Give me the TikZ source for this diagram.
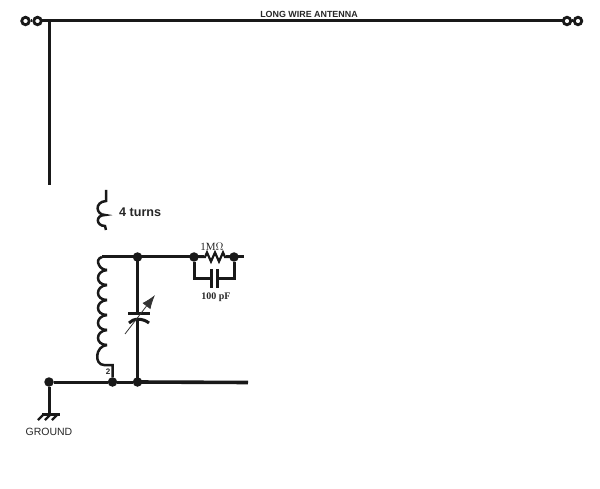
\documentclass[tikz,border=0pt]{standalone}
\usepackage{fontspec}
\setmainfont{Liberation Sans}
\newfontfamily\serifface{Liberation Serif}
\usetikzlibrary{arrows.meta}
\tikzset{
  wire/.style={line width=3pt,black!90},
  jdot/.style={circle,fill=black!90,inner sep=0pt,outer sep=0pt,minimum size=9.5pt},
  insul/.style={circle,draw=black!90,fill=white,line width=2.8pt,inner sep=0pt,minimum size=7.5pt},
  lbl/.style={inner sep=0pt,text=black!85}
}
\begin{document}
\begin{tikzpicture}[x=1pt,y=-1pt]
    \useasboundingbox (0,0) rectangle (600,489);

    % antenna
    \coordinate (top) at (49,21);
    \coordinate (wireend) at (49,185);
    \coordinate (insL) at (37.5,21);
    \coordinate (insR) at (567,21);
    \draw[wire] (insL) -- (insR);
    \draw[wire] (top) -- (wireend);
    \node[insul] (insA) at (25.5,21) {};
    \node[insul] (insB) at (37.5,21) {};
    \node[insul] (insC) at (567,21) {};
    \node[insul] (insD) at (578,21) {};
    \draw[wire] (insA) -- (insB);
    \draw[wire] (insC) -- (insD);
    \node[lbl,font=\bfseries\fontsize{8.9}{10}\selectfont] (antlabel) at (309,14.5) {LONG WIRE ANTENNA};

    % small coil
    \coordinate (sa) at (106,190);
    \coordinate (sb) at (106,230);
    \draw[wire,line width=2.5pt] (sa) -- (106,201)
      .. controls (94,202) and (96,215) .. (105,215)
      .. controls (95,215) and (96,226) .. (105,226)
      -- (sb) ;
    \node[lbl,font=\bfseries\fontsize{12.6}{14}\selectfont,anchor=west] (turns) at (119,212) {4 turns};

    % tuned circuit
    \coordinate (l1) at (102,257);
    \coordinate (r1) at (244,257);
    \draw[wire] (l1) -- (r1);
    \node[jdot] (n1) at (137.5,257) {};
    \node[jdot] (n2) at (194,257) {};
    \node[jdot] (n3) at (234,257) {};
    \fill[white] (204,253) rectangle (226,261);
    \draw[wire,line width=2.2pt] (n2) -- (205,257) -- (207,252.5) -- (211,261.5) -- (215,252.5) -- (219,261.5) -- (223,252.5) -- (225,257) -- (n3);
    \node[lbl,font=\serifface\fontsize{11}{13}\selectfont] (rlabel) at (212,247) {1M$\Omega$};

    % bridge capacitor
    \coordinate (pa) at (211,279);
    \coordinate (pb) at (217,279);
    \draw[wire] (n2) |- (pa);
    \draw[wire] (n3) |- (pb);
    \draw[wire] (211,269) -- (211,288);
    \draw[wire] (217,269) -- (217,288);
    \node[lbl,font=\serifface\bfseries\fontsize{10}{11}\selectfont] (clabel) at (216,297) {100 pF};

    % big coil
    \node[jdot] (n4) at (112.5,382) {};
    \draw[wire,line width=2.5pt] (l1)
      .. controls (98,258) and (97,262) .. (99,265)
      .. controls (100,268) and (104,270) .. (107,270);
    \foreach \y in {270,285,300,315,330}
      \draw[wire,line width=2.5pt] (107,\y)
        .. controls (95,\y+1) and (95,\y+15) .. (107,\y+15);
    \draw[wire,line width=2.5pt] (107,345)
      .. controls (95,346) and (94,365) .. (104,365) -- (112.5,365) -- (n4);
    \node[lbl,font=\bfseries\fontsize{8}{9}\selectfont] (two) at (108,372) {2};

    % variable capacitor
    \node[jdot] (n5) at (137.5,382) {};
    \coordinate (ctop) at (137.5,313);
    \coordinate (cbot) at (137.5,318);
    \draw[wire] (n1.center) -- (ctop);
    \draw[wire] (cbot) -- (n5.center);
    \draw[wire,line width=3.4pt] (128,313.5) -- (150,313.5);
    \draw[wire] (129,323) .. controls (133,318) and (143,318) .. (149,323);
    \coordinate (arr1) at (125,334);
    \coordinate (arr2) at (155,295);
    \draw[black!80,line width=0.8pt,-{Latex[length=14pt,width=10pt]}] (arr1) -- (arr2);

    % ground rail
    \node[jdot] (n6) at (49,382) {};
    \coordinate (r2) at (248,382.5);
    \draw[wire] (n6) -- (n4);
    \draw[wire] (n4) -- (n5);
    \draw[wire,line width=3.6pt] (n5.center) -- (r2);
    \coordinate (gnd) at (49,414);
    \draw[wire] (n6) -- (gnd);
    \draw[wire] (42,414) -- (60,414);
    \foreach \x in {44,51,58}
      \draw[wire,line width=2.2pt] (\x,414) -- (\x-6,420);
    \node[lbl,font=\fontsize{10.5}{12}\selectfont] (gndlabel) at (49,432) {GROUND};
\end{tikzpicture}
\end{document}
